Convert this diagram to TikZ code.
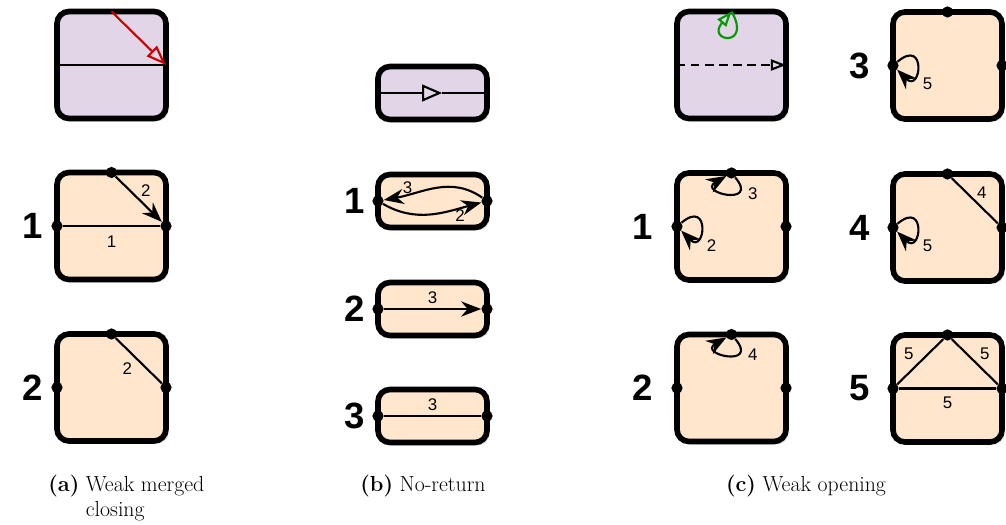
\documentclass[tikz,border=0pt]{standalone}
\usepackage{fontspec}
\newfontfamily\diafont{Liberation Sans}
\usepackage{xcolor}
\usetikzlibrary{arrows.meta, positioning, shadows}
\definecolor{purplefill}{HTML}{E1D5E7}
\definecolor{orangefill}{HTML}{FFE6CC}
\definecolor{redline}{HTML}{CC0000}
\definecolor{greenline}{HTML}{009900}

\begin{document}
\begin{tikzpicture}[x=0.025cm, y=0.025cm,
    box/.style={rectangle, draw, line width=4pt, rounded corners=0.3cm,
                minimum width=2.725cm, minimum height=2.675cm, inner sep=0pt, outer sep=0pt,
                drop shadow={shadow xshift=0.07cm, shadow yshift=-0.07cm, opacity=0.25}},
    flat/.style={minimum height=1.325cm},
    purplebox/.style={box, fill=purplefill},
    orangebox/.style={box, fill=orangefill},
    dot/.style={circle, fill, inner sep=0pt, minimum size=0.28cm},
    big/.style={font=\diafont\fontsize{26}{26}\bfseries\selectfont, inner sep=0pt},
    num/.style={font=\diafont\fontsize{12}{14}\selectfont, inner sep=1pt},
    link/.style={line width=1.5pt},
    arrow/.style={link, -{Stealth[length=0.5cm, width=0.38cm]}},
    hollow/.style={link, -{Triangle[open, length=0.5cm, width=0.36cm]}},
    subcap/.style={font=\fontsize{15.5}{18}\selectfont, inner sep=0pt}
]
\useasboundingbox (0,0) rectangle (1006,-525);

% (a) weak merged closing
\node[purplebox] (a0) at (111.5,-65)   {};
\node[orangebox] (a1) at (111.5,-226)  {};
\node[orangebox] (a2) at (111.5,-387.5) {};
\node[dot] (a1t) at (a1.north) {};
\node[dot] (a1l) at (a1.west)  {};
\node[dot] (a1r) at (a1.east)  {};
\node[dot] (a2t) at (a2.north) {};
\node[dot] (a2l) at (a2.west)  {};
\node[dot] (a2r) at (a2.east)  {};
\node[big, left=0.2cm of a1l] {1};
\node[big, left=0.2cm of a2l] {2};

\draw[link] (a0.west) -- (a0.east);
\draw[hollow, redline] (a0.north) -- (a0.east);
\draw[link]  (a1l) -- (a1r) node[num, midway, below=5pt] {1};
\draw[arrow] (a1t) -- (a1r) node[num, midway, above right] {2};
\draw[link]  (a2t) -- (a2r) node[num, midway, below left, xshift=-3pt] {2};

% (b) no-return
\node[purplebox, flat] (b0) at (432.5,-93)  {};
\node[orangebox, flat] (b1) at (432.5,-201) {};
\node[orangebox, flat] (b2) at (432.5,-309) {};
\node[orangebox, flat] (b3) at (432.5,-416) {};
\coordinate (b0m) at ([xshift=0.24cm]b0.center);
\node[dot] (b1l) at (b1.west) {};
\node[dot] (b1r) at (b1.east) {};
\node[dot] (b2l) at (b2.west) {};
\node[dot] (b2r) at (b2.east) {};
\node[dot] (b3l) at (b3.west) {};
\node[dot] (b3r) at (b3.east) {};
\node[big, left=0.18cm of b1l] {1};
\node[big, left=0.18cm of b2l] {2};
\node[big, left=0.18cm of b3l] {3};

\draw[link, -{Triangle[open, length=0.5cm, width=0.42cm]}] (b0.west) -- (b0m);
\draw[link] (b0m) -- (b0.east);
\draw[arrow] (b1r) to[out=145, in=10] node[num, pos=0.78, above=-1pt] {3} (b1l);
\draw[arrow] (b1l) to[out=-30, in=195] node[num, pos=0.8, below=-1pt] {2} (b1r);
\draw[arrow] (b2l) -- (b2r) node[num, midway, above=2pt] {3};
\draw[link]  (b3l) -- (b3r) node[num, midway, above=2pt] {3};

% (c) weak opening
\node[purplebox] (c0) at (731.5,-65)   {};
\node[orangebox] (c1) at (731.5,-226.5) {};
\node[orangebox] (c2) at (731.5,-388)  {};
\node[orangebox] (d0) at (947.5,-65.5) {};
\node[orangebox] (d1) at (947.5,-227.5) {};
\node[orangebox] (d2) at (947.5,-388.5) {};
\foreach \n in {c1,c2,d0,d1,d2} {
  \node[dot] (\n t) at (\n.north) {};
  \node[dot] (\n l) at (\n.west)  {};
  \node[dot] (\n r) at (\n.east)  {};
}
\node[big, left=0.46cm of c1l] {1};
\node[big, left=0.46cm of c2l] {2};
\node[big, left=0.43cm of d0l] {3};
\node[big, left=0.43cm of d1l] {4};
\node[big, left=0.43cm of d2l] {5};

\draw[link, dash pattern=on 6pt off 4pt, -{Triangle[open, length=0.38cm, width=0.28cm]}] (c0.west) -- (c0.east);
\draw[link, greenline, -{Triangle[open, length=0.38cm, width=0.28cm]}]
  (c0.north) .. controls +(-60:42) and +(-130:40) .. (c0.north);
\draw[arrow] (c1t) .. controls +(-50:44) and +(-150:40) .. node[num, pos=0.3, right=5pt] {3} (c1t);
\draw[arrow] (c1l) .. controls +(40:44) and +(-45:40) .. node[num, pos=0.6, below right=4pt and 3pt] {2} (c1l);
\draw[arrow] (c2t) .. controls +(-50:44) and +(-150:40) .. node[num, pos=0.3, right=5pt] {4} (c2t);
\draw[arrow] (d0l) .. controls +(40:44) and +(-45:40) .. node[num, pos=0.6, below right=4pt and 3pt] {5} (d0l);
\draw[arrow] (d1l) .. controls +(40:44) and +(-45:40) .. node[num, pos=0.6, below right=4pt and 3pt] {5} (d1l);
\draw[link] (d1t) -- (d1r) node[num, midway, above right] {4};
\draw[link] (d2l) -- (d2t) node[num, midway, above left, xshift=-3pt] {5};
\draw[link] (d2t) -- (d2r) node[num, midway, above right, xshift=2pt] {5};
\draw[link] (d2l) -- (d2r) node[num, midway, below=4pt] {5};

% captions
\node[subcap, anchor=base west] (capa) at (48,-491)
  {\begin{tabular}[t]{@{}l@{~}l@{}}\textbf{(a)} & Weak merged\\ & closing\end{tabular}};
\node[subcap, anchor=base] (capb) at (423,-491) {\textbf{(b)}~No-return};
\node[subcap, anchor=base] (capc) at (806,-491) {\textbf{(c)}~Weak opening};
\end{tikzpicture}
\end{document}
